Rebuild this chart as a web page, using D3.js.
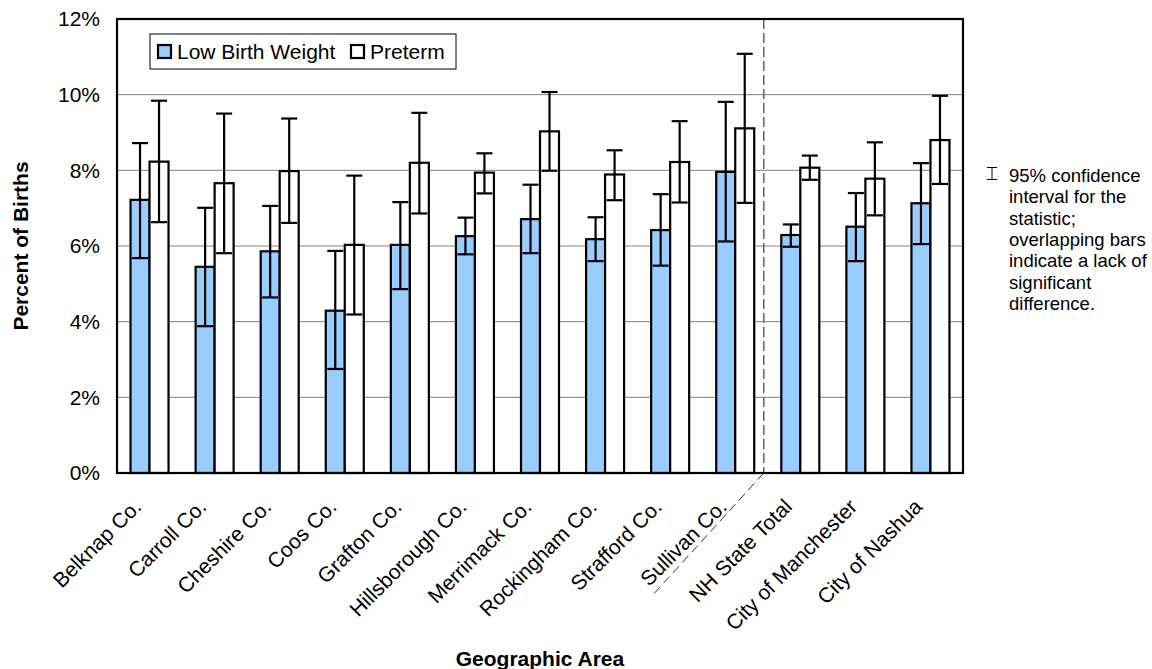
<!DOCTYPE html>
<html>
<head>
<meta charset="utf-8">
<script src="https://cdn.jsdelivr.net/npm/d3@7"></script>
<style>
  body { margin: 0; background: #fff; }
  svg text { font-family: "Liberation Sans", Arial, sans-serif; fill: #000; }
</style>
</head>
<body>
<div id="content"></div>
<script>
var width = 1152,
    height = 669;

// plot area, in page pixels
var margin = { top: 19, right: 189, bottom: 196, left: 117 };

var categories = ["Belknap Co.", "Carroll Co.", "Cheshire Co.", "Coos Co.", "Grafton Co.",
    "Hillsborough Co.", "Merrimack Co.", "Rockingham Co.", "Strafford Co.", "Sullivan Co.",
    "NH State Total", "City of Manchester", "City of Nashua"];
var seriesNames = ["Low Birth Weight", "Preterm"];

// percent of births
var lbwValues = [7.22, 5.45, 5.86, 4.29, 6.03, 6.26, 6.71, 6.18, 6.42, 7.96, 6.29, 6.51, 7.13];
var lbwLower = [5.68, 3.88, 4.64, 2.75, 4.86, 5.78, 5.81, 5.60, 5.48, 6.12, 5.98, 5.60, 6.05];
var lbwUpper = [8.72, 7.01, 7.06, 5.87, 7.16, 6.75, 7.62, 6.76, 7.37, 9.81, 6.57, 7.40, 8.19];
var pretermValues = [8.23, 7.66, 7.98, 6.03, 8.20, 7.94, 9.03, 7.89, 8.22, 9.11, 8.07, 7.78, 8.80];
var pretermLower = [6.63, 5.81, 6.61, 4.19, 6.86, 7.39, 7.99, 7.21, 7.15, 7.14, 7.75, 6.81, 7.64];
var pretermUpper = [9.84, 9.50, 9.37, 7.86, 9.52, 8.45, 10.07, 8.53, 9.30, 11.08, 8.39, 8.74, 9.97];

var yTicks = [0, 2, 4, 6, 8, 10, 12];
var noteLines = ["95% confidence", "interval for the", "statistic;", "overlapping bars",
    "indicate a lack of", "significant", "difference."];
var splitAfter = "Sullivan Co.";   // dashed separator after this category

var colors = ["#99ccff", "#ffffff"];

var w = width - margin.left - margin.right,
    h = height - margin.top - margin.bottom;

var svg = d3.select("#content")
    .append("svg")
    .attr("width", width)
    .attr("height", height);

var g = svg.append("g")
    .attr("transform", "translate(" + margin.left + "," + margin.top + ")");

var x = d3.scaleBand()
    .domain(categories)
    .range([0, w])
    .paddingInner(0.416)
    .paddingOuter(0.208);

var xSub = d3.scaleBand()
    .domain(seriesNames)
    .range([0, x.bandwidth()]);

var y = d3.scaleLinear()
    .domain([0, 12])
    .range([h, 0]);

// build rows from the arrays
var rows = categories.map(function (c, i) {
    return [
        { cat: c, key: seriesNames[0], v: lbwValues[i], lo: lbwLower[i], hi: lbwUpper[i], color: colors[0] },
        { cat: c, key: seriesNames[1], v: pretermValues[i], lo: pretermLower[i], hi: pretermUpper[i], color: colors[1] }
    ];
});

// gridlines
g.selectAll(".grid")
    .data(yTicks.filter(function (t) { return t > 0 && t < 12; }))
    .enter()
    .append("line")
    .attr("x1", 0)
    .attr("x2", w)
    .attr("y1", function (d) { return y(d); })
    .attr("y2", function (d) { return y(d); })
    .attr("stroke", "#808080")
    .attr("stroke-width", 1);

// y tick labels
g.selectAll(".ytick")
    .data(yTicks)
    .enter()
    .append("text")
    .attr("x", -17)
    .attr("y", function (d) { return y(d); })
    .attr("dy", "0.35em")
    .attr("text-anchor", "end")
    .style("font-size", "21px")
    .text(function (d) { return d + "%"; });

// bars
var groups = g.selectAll(".group")
    .data(rows)
    .enter()
    .append("g")
    .attr("transform", function (d) { return "translate(" + x(d[0].cat) + ",0)"; });

groups.selectAll("rect")
    .data(function (d) { return d; })
    .enter()
    .append("rect")
    .attr("x", function (d) { return xSub(d.key); })
    .attr("y", function (d) { return y(d.v); })
    .attr("width", xSub.bandwidth())
    .attr("height", function (d) { return h - y(d.v); })
    .attr("fill", function (d) { return d.color; })
    .attr("stroke", "#000")
    .attr("stroke-width", 2.2);

// error bars
var capHalf = 8;
var err = groups.selectAll(".err")
    .data(function (d) { return d; })
    .enter()
    .append("g");

err.append("line")
    .attr("x1", function (d) { return xSub(d.key) + xSub.bandwidth() / 2; })
    .attr("x2", function (d) { return xSub(d.key) + xSub.bandwidth() / 2; })
    .attr("y1", function (d) { return y(d.lo); })
    .attr("y2", function (d) { return y(d.hi); })
    .attr("stroke", "#000")
    .attr("stroke-width", 2.2);

["lo", "hi"].forEach(function (k) {
    err.append("line")
        .attr("x1", function (d) { return xSub(d.key) + xSub.bandwidth() / 2 - capHalf; })
        .attr("x2", function (d) { return xSub(d.key) + xSub.bandwidth() / 2 + capHalf; })
        .attr("y1", function (d) { return y(d[k]); })
        .attr("y2", function (d) { return y(d[k]); })
        .attr("stroke", "#000")
        .attr("stroke-width", 2.2);
});

// dashed separator between counties and state / cities
var sepX = x(splitAfter) + x.bandwidth() + x.step() * x.paddingInner() / 2 - 4;
g.append("path")
    .attr("d", "M" + sepX + ",0 L" + sepX + "," + h)
    .attr("fill", "none")
    .attr("stroke", "#666")
    .attr("stroke-width", 1.5)
    .attr("stroke-dasharray", "10,4");
g.append("path")
    .attr("d", "M" + sepX + "," + h + " L" + (sepX - 111) + "," + (h + 122))
    .attr("fill", "none")
    .attr("stroke", "#333")
    .attr("stroke-width", 1)
    .attr("stroke-dasharray", "9,5");

// plot frame
g.append("rect")
    .attr("x", 0)
    .attr("y", 0)
    .attr("width", w)
    .attr("height", h)
    .attr("fill", "none")
    .attr("stroke", "#000")
    .attr("stroke-width", 2.2);

// x labels
g.selectAll(".xlabel")
    .data(categories)
    .enter()
    .append("text")
    .attr("text-anchor", "end")
    .style("font-size", "21px")
    .attr("transform", function (d) {
        return "translate(" + (x(d) + x.bandwidth() / 2 - 7) + "," + (h + 35) + ") rotate(-45)";
    })
    .text(function (d) { return d; });

// legend
var legend = g.append("g").attr("transform", "translate(33,15)");
legend.append("rect")
    .attr("width", 306)
    .attr("height", 35)
    .attr("fill", "#fff")
    .attr("stroke", "#000")
    .attr("stroke-width", 1);

var legendX = [7, 200];
seriesNames.forEach(function (s, i) {
    legend.append("rect")
        .attr("x", legendX[i] + 1)
        .attr("y", 11)
        .attr("width", 13)
        .attr("height", 13)
        .attr("fill", colors[i])
        .attr("stroke", "#000")
        .attr("stroke-width", 2.2);
    legend.append("text")
        .attr("x", legendX[i] + 20)
        .attr("y", 25)
        .style("font-size", "21px")
        .text(s);
});

// axis titles
svg.append("text")
    .attr("transform", "translate(28," + (margin.top + h / 2) + ") rotate(-90)")
    .attr("text-anchor", "middle")
    .style("font-size", "21px")
    .style("font-weight", "bold")
    .text("Percent of Births");

svg.append("text")
    .attr("x", margin.left + w / 2)
    .attr("y", 666)
    .attr("text-anchor", "middle")
    .style("font-size", "21px")
    .style("font-weight", "bold")
    .text("Geographic Area");

// confidence interval note
var note = svg.append("g").attr("transform", "translate(992,0)");
note.append("path")
    .attr("d", "M-5,167.5 H5 M0,167.5 V179.5 M-5,179.5 H5")
    .attr("fill", "none")
    .attr("stroke", "#000")
    .attr("stroke-width", 1);

note.selectAll(".note")
    .data(noteLines)
    .enter()
    .append("text")
    .attr("x", 17)
    .attr("y", function (d, i) { return 182 + i * 21.3; })
    .style("font-size", "18.5px")
    .text(function (d) { return d; });
</script>
</body>
</html>
